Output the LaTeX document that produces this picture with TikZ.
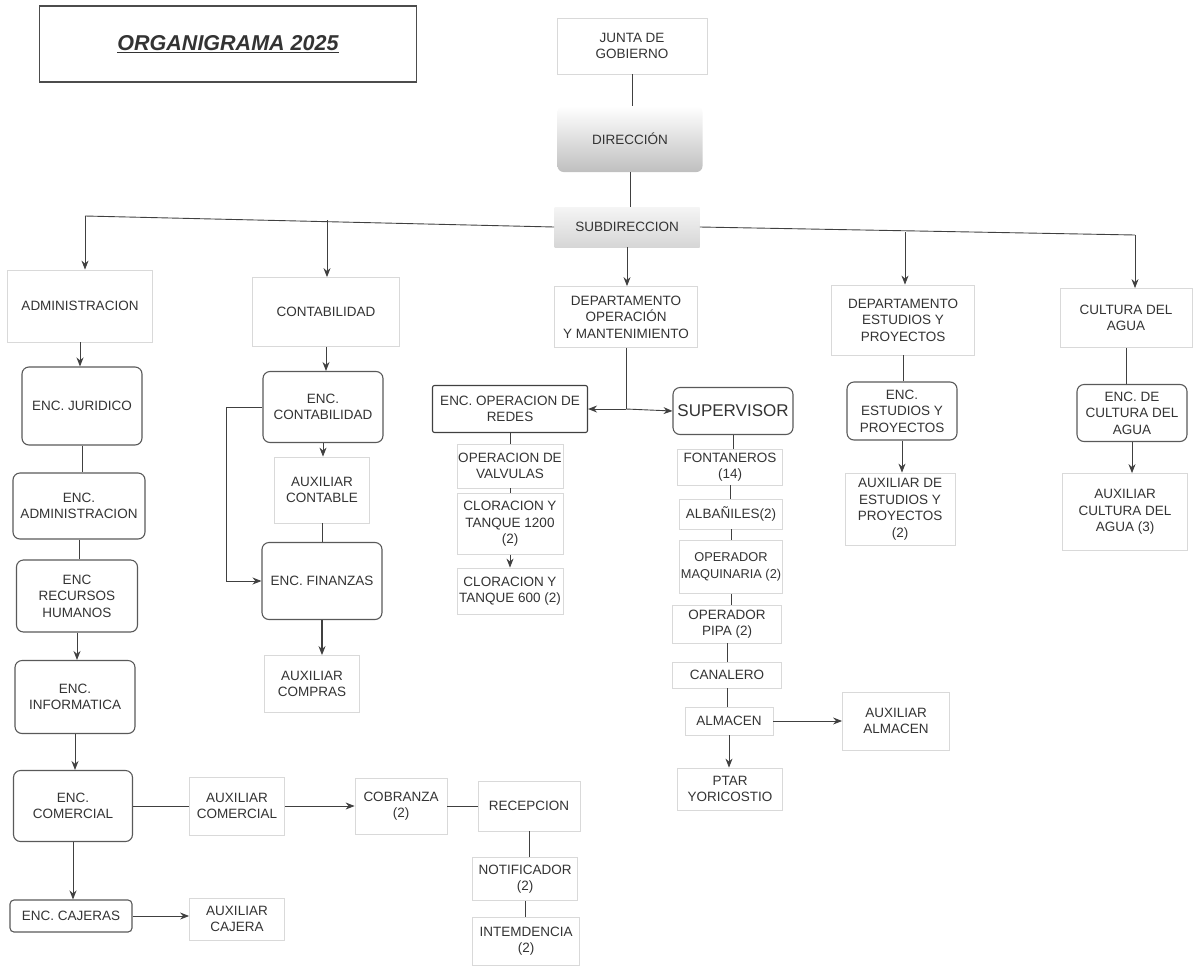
\documentclass[tikz,border=0pt]{standalone}
\usepackage{fontspec}
\setmainfont{Liberation Sans}
\usetikzlibrary{arrows.meta}
\tikzset{
  caja/.style={draw=black!15, line width=0.8pt, align=center, inner sep=1pt,
    text=black!80, font=\fontsize{13.5}{16.5}\selectfont},
  enc/.style={caja, draw=black!65, line width=1.1pt, rounded corners=7pt},
  tam/.style 2 args={minimum width=#1pt, minimum height=#2pt},
  linea/.style={draw=black!75, line width=0.9pt},
}
\begin{document}
\begin{tikzpicture}[x=1pt, y=-1pt, >={Stealth[length=9pt,width=7pt]}]
	\useasboundingbox (0,0) rectangle (1193,972);

	% Titulo
	\node[draw=black!70, line width=1.2pt, tam={377}{76}, text=black!80,
	  font=\fontsize{21.5}{25}\selectfont\bfseries\itshape] (titulo) at (228,44) {\underline{ORGANIGRAMA 2025}};

	% Direccion
	\node[caja, tam={150}{56}] (junta) at (632,46) {JUNTA DE\\GOBIERNO};
	\node[caja, draw=none, rounded corners=6pt, top color=white, bottom color=black!25, tam={145}{66}] (dir) at (630,139) {DIRECCIÓN};
	\node[caja, draw=none, top color=black!4, bottom color=black!16, tam={145}{40}] (sub) at (627,227) {SUBDIRECCION};

	% Administracion
	\node[caja, tam={145}{72}] (adm) at (80,306) {ADMINISTRACION};
	\node[enc, tam={120}{78}] (jur) at (82,406) {ENC. JURIDICO};
	\node[enc, tam={132}{66}] (encadm) at (79,506) {ENC.\\ADMINISTRACION};
	\node[enc, tam={121}{72}] (rrhh) at (77,596) {ENC\\RECURSOS\\HUMANOS};
	\node[enc, tam={120}{73}] (info) at (75,697) {ENC.\\INFORMATICA};
	\node[enc, tam={119}{71}] (com) at (73,806) {ENC.\\COMERCIAL};
	\node[enc, rounded corners=4pt, tam={122}{32}] (caj) at (71,916) {ENC. CAJERAS};
	\node[caja, tam={95}{42}] (auxcaj) at (237,919) {AUXILIAR\\CAJERA};
	\node[caja, tam={95}{58}] (auxcom) at (237,806) {AUXILIAR\\COMERCIAL};
	\node[caja, tam={92}{56}] (cob) at (401,806) {COBRANZA\\(2)};
	\node[caja, tam={102}{50}] (rec) at (529,806) {RECEPCION};
	\node[caja, tam={105}{43}] (notif) at (525,879) {NOTIFICADOR\\(2)};
	\node[caja, tam={107}{48}] (inten) at (526,941) {INTEMDENCIA\\(2)};

	% Contabilidad
	\node[caja, tam={147}{69}] (cont) at (326,312) {CONTABILIDAD};
	\node[enc, tam={120}{71}] (enccont) at (323,407) {ENC.\\CONTABILIDAD};
	\node[caja, tam={95}{66}] (auxcont) at (322,490) {AUXILIAR\\CONTABLE};
	\node[enc, tam={120}{77}] (fin) at (322,581) {ENC. FINANZAS};
	\node[caja, tam={95}{57}] (compras) at (312,684) {AUXILIAR\\COMPRAS};

	% Operacion y mantenimiento
	\node[caja, tam={143}{61}] (depop) at (626,317) {DEPARTAMENTO\\OPERACIÓN\\Y MANTENIMIENTO};
	\node[caja, draw=black!75, line width=1.1pt, rounded corners=2pt, tam={155}{47}] (redes) at (510,409) {ENC. OPERACION DE\\REDES};
	\node[enc, tam={120}{47}, font=\fontsize{17}{20}\selectfont] (sup) at (733,411) {SUPERVISOR};
	\node[caja, tam={106}{44}] (valv) at (510,466) {OPERACION DE\\VALVULAS};
	\node[caja, tam={106}{61}] (clor1) at (510,524) {CLORACION Y\\TANQUE 1200\\(2)};
	\node[caja, tam={106}{46}] (clor2) at (510,591) {CLORACION Y\\TANQUE 600 (2)};
	\node[caja, tam={105}{36}] (font) at (730,467) {FONTANEROS\\(14)};
	\node[caja, tam={103}{30}] (alb) at (731,514) {ALBAÑILES(2)};
	\node[caja, tam={103}{53}, font=\fontsize{12.8}{17}\selectfont] (maq) at (731,567) {OPERADOR\\MAQUINARIA (2)};
	\node[caja, tam={109}{38}] (pipa) at (727,624) {OPERADOR\\PIPA (2)};
	\node[caja, tam={109}{26}] (canal) at (727,675) {CANALERO};
	\node[caja, tam={88}{28}] (alm) at (729,721) {ALMACEN};
	\node[caja, tam={107}{58}] (auxalm) at (896,721) {AUXILIAR\\ALMACEN};
	\node[caja, tam={105}{42}] (ptar) at (730,789) {PTAR\\YORICOSTIO};

	% Estudios y proyectos
	\node[caja, tam={143}{70}] (depest) at (903,320) {DEPARTAMENTO\\ESTUDIOS Y\\PROYECTOS};
	\node[enc, tam={110}{58}] (encest) at (902,411) {ENC.\\ESTUDIOS Y\\PROYECTOS};
	\node[caja, tam={110}{72}] (auxest) at (900,509) {AUXILIAR DE\\ESTUDIOS Y\\PROYECTOS\\(2)};

	% Cultura del agua
	\node[caja, tam={132}{59}] (cult) at (1126,318) {CULTURA DEL\\AGUA};
	\node[enc, tam={110}{57}] (enccult) at (1132,413) {ENC. DE\\CULTURA DEL\\AGUA};
	\node[caja, tam={125}{77}] (auxcult) at (1125,512) {AUXILIAR\\CULTURA DEL\\AGUA (3)};

	% Barra principal
	\coordinate (bl) at (85,216);
	\coordinate (bc) at (327,220);
	\coordinate (bd) at (905,232);
	\coordinate (br) at (1135,235);
	\coordinate (opj) at (626,409);

	\draw[linea] (junta.south) -- (junta.south |- dir.north);
	\draw[linea] (dir.south) -- (dir.south |- sub.north);
	\draw[linea] (sub.west) -- (bl);
	\draw[linea] (sub.east) -- (br);
	\draw[linea, ->] (bl) -- (bl |- adm.north);
	\draw[linea, ->] (bc) -- (bc |- cont.north);
	\draw[linea, ->] (sub.south) -- (sub.south |- depop.north);
	\draw[linea, ->] (bd) -- (bd |- depest.north);
	\draw[linea, ->] (br) -- (br |- cult.north);

	% Conectores administracion
	\draw[linea, ->] (adm.south) -- (adm.south |- jur.north);
	\draw[linea] (jur.south) -- (jur.south |- encadm.north);
	\draw[linea] (encadm.south) -- (encadm.south |- rrhh.north);
	\draw[linea, ->] (rrhh.south) -- (rrhh.south |- info.north);
	\draw[linea, ->] (info.south) -- (info.south |- com.north);
	\draw[linea, ->] (com.south) -- (com.south |- caj.north);
	\draw[linea, ->] (caj.east) -- (caj.east -| auxcaj.west);
	\draw[linea] (com.east) -- (auxcom.west);
	\draw[linea, ->] (auxcom.east) -- (cob.west);
	\draw[linea] (cob.east) -- (rec.west);
	\draw[linea] (rec.south) -- (rec.south |- notif.north);
	\draw[linea] (notif.south) -- (notif.south |- inten.north);

	% Conectores contabilidad
	\draw[linea, ->] (cont.south) -- (cont.south |- enccont.north);
	\draw[linea, ->] (enccont.south) -- (enccont.south |- auxcont.north);
	\draw[linea] (auxcont.south) -- (auxcont.south |- fin.north);
	\draw[linea, ->] (enccont.west) -- ++(-36,0) |- (fin.west);
	\draw[linea, line width=1.4pt, ->] (fin.south) -- (fin.south |- compras.north);

	% Conectores operacion
	\draw[linea] (depop.south) -- (opj);
	\draw[linea, ->] (opj) -- (redes.east);
	\draw[linea, ->] (opj) -- (sup.west);
	\draw[linea] (redes.south) -- (redes.south |- valv.north);
	\draw[linea] (valv.south) -- (valv.south |- clor1.north);
	\draw[linea, ->] (clor1.south) -- (clor1.south |- clor2.north);
	\draw[linea] (sup.south) -- (sup.south |- font.north);
	\draw[linea] (font.south) -- (font.south |- alb.north);
	\draw[linea] (alb.south) -- (alb.south |- maq.north);
	\draw[linea] (maq.south) -- (maq.south |- pipa.north);
	\draw[linea] (pipa.south) -- (pipa.south |- canal.north);
	\draw[linea] (canal.south) -- (canal.south |- alm.north);
	\draw[linea, ->] (alm.east) -- (auxalm.west);
	\draw[linea, ->] (alm.south) -- (alm.south |- ptar.north);

	% Conectores estudios y cultura
	\draw[linea] (depest.south) -- (depest.south |- encest.north);
	\draw[linea, ->] (encest.south) -- (encest.south |- auxest.north);
	\draw[linea] (cult.south) -- (cult.south |- enccult.north);
	\draw[linea, ->] (enccult.south) -- (enccult.south |- auxcult.north);
\end{tikzpicture}
\end{document}
